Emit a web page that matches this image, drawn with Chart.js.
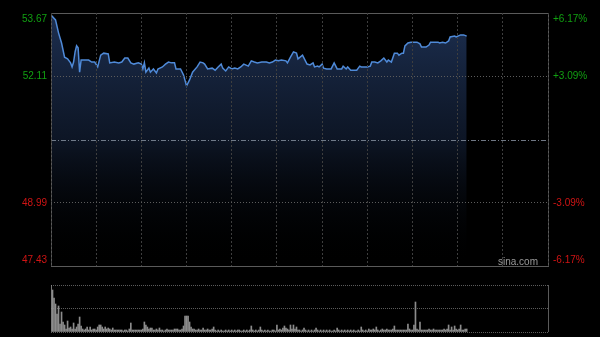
<!DOCTYPE html>
<html>
<head>
<meta charset="utf-8">
<script src="https://cdn.jsdelivr.net/npm/chart.js@4.4.1/dist/chart.umd.min.js"></script>
<style>
  html, body { margin: 0; padding: 0; background: #000; }
  #wrap { position: relative; width: 600px; height: 337px; background: #000; overflow: hidden; }
  #precio { position: absolute; left: 0; top: 0; width: 600px; height: 280px; }
  #volumen { position: absolute; left: 0; top: 280px; width: 600px; height: 57px; }
  #marca { position: absolute; left: 498px; top: 256px; font: 10px 'Liberation Sans', Arial, sans-serif; color: #9a9a9a; }
</style>
</head>
<body>
<div id="wrap">
  <div id="precio"><canvas id="graficoPrecio"></canvas></div>
  <div id="volumen"><canvas id="graficoVolumen"></canvas></div>
  <div id="marca">sina.com</div>
</div>
<script>
// minutos desde la apertura (sesion de 330 minutos)
const totalMinutos = 330;
const minutos = [
  0, 3, 5, 7, 9, 11, 13, 14, 15, 16,
  17, 18, 19, 20, 22, 25, 27, 29, 31, 33,
  35, 38, 39, 42, 45, 47, 49, 51, 53, 55,
  58, 60, 61, 62, 63, 65, 66, 68, 70, 71,
  74, 76, 78, 80, 82, 83, 86, 88, 90, 92,
  94, 97, 99, 101, 102, 104, 107, 109, 111, 113,
  114, 116, 118, 120, 122, 124, 126, 128, 131, 133,
  135, 137, 140, 143, 145, 147, 149, 151, 153, 156,
  157, 159, 161, 163, 164, 167, 170, 172, 174, 175,
  177, 178, 180, 181, 183, 186, 188, 190, 193, 194,
  196, 197, 199, 203, 205, 206, 208, 210, 212, 213,
  215, 217, 219, 221, 223, 224, 226, 228, 230, 231,
  233, 234, 235, 237, 239, 241, 243, 245, 246, 249,
  251, 252, 254, 257, 258, 260, 262, 264, 265, 268,
  269, 272, 274, 276
];
const precios = [
  53.62, 53.50, 53.18, 52.93, 52.58, 52.54, 52.44, 52.34, 52.46, 52.71,
  52.86, 52.81, 52.21, 52.51, 52.51, 52.51, 52.46, 52.46, 52.34, 52.63,
  52.68, 52.66, 52.44, 52.46, 52.44, 52.46, 52.56, 52.56, 52.44, 52.41,
  52.44, 52.41, 52.29, 52.44, 52.21, 52.31, 52.21, 52.29, 52.19, 52.29,
  52.34, 52.41, 52.46, 52.44, 52.44, 52.29, 52.29, 52.14, 51.87, 52.02,
  52.21, 52.34, 52.46, 52.44, 52.41, 52.29, 52.31, 52.26, 52.34, 52.41,
  52.31, 52.24, 52.34, 52.29, 52.31, 52.29, 52.34, 52.41, 52.36, 52.49,
  52.46, 52.44, 52.46, 52.46, 52.44, 52.46, 52.51, 52.49, 52.51, 52.49,
  52.44, 52.58, 52.71, 52.68, 52.54, 52.63, 52.41, 52.39, 52.44, 52.34,
  52.36, 52.34, 52.41, 52.31, 52.29, 52.29, 52.44, 52.29, 52.29, 52.36,
  52.29, 52.34, 52.26, 52.26, 52.36, 52.34, 52.34, 52.34, 52.36, 52.46,
  52.46, 52.44, 52.49, 52.56, 52.46, 52.51, 52.46, 52.68, 52.68, 52.63,
  52.68, 52.68, 52.86, 52.93, 52.95, 52.95, 52.95, 52.91, 52.83, 52.83,
  52.88, 52.95, 52.95, 52.95, 52.93, 52.95, 52.93, 52.98, 53.08, 53.10,
  53.08, 53.13, 53.13, 53.10
];
// volumen por minuto, desde el minuto 0
const volumenes = [
  47, 42, 34, 28, 18, 26, 8, 20, 10, 7, 3, 11, 4, 5, 3, 9, 3, 5, 8, 15, 6,
  3, 2, 3, 5, 2, 5, 2, 3, 3, 2, 5, 7, 7, 5, 3, 5, 3, 4, 3, 2,
  4, 2, 2, 2, 2, 2, 2, 1, 2, 2, 1, 3, 9, 2, 2, 2, 2, 2, 2, 2,
  3, 10, 7, 5, 3, 4, 4, 2, 2, 3, 2, 4, 2, 2, 1, 2, 3, 2, 2, 2,
  2, 3, 3, 3, 2, 2, 3, 6, 16, 16, 16, 10, 5, 3, 3, 2, 2, 3, 2, 2,
  4, 2, 2, 3, 2, 2, 3, 5, 2, 1, 2, 1, 2, 1, 1, 2, 1, 2, 1, 2,
  1, 2, 1, 2, 2, 1, 1, 2, 1, 2, 1, 2, 6, 2, 1, 2, 1, 2, 5, 2,
  1, 2, 1, 2, 1, 1, 2, 2, 1, 7, 2, 3, 2, 4, 6, 4, 3, 2, 7, 3,
  7, 3, 5, 2, 2, 1, 2, 4, 2, 1, 2, 1, 2, 1, 2, 4, 2, 1, 2, 1,
  2, 1, 2, 1, 2, 1, 1, 2, 1, 4, 2, 1, 2, 1, 2, 1, 2, 1, 2, 1,
  2, 1, 1, 2, 1, 5, 2, 1, 2, 1, 3, 2, 2, 3, 2, 5, 2, 1, 2, 3,
  2, 2, 3, 2, 2, 2, 3, 6, 2, 2, 2, 2, 2, 2, 2, 2, 8, 3, 2, 2,
  7, 30, 3, 2, 10, 2, 2, 2, 2, 2, 3, 2, 2, 3, 2, 2, 2, 2, 2, 2,
  3, 2, 3, 7, 2, 5, 2, 6, 3, 2, 3, 7, 2, 2, 3, 3
];
const precioBase = 50.55;
const precioMin = 47.43;
const precioMax = 53.67;
const ticksPrecio = [47.43, 48.99, 50.55, 52.11, 53.67];
const volumenMax = 47;

const fuente = "'Liberation Sans', Arial, sans-serif";
const verde = '#11a011';
const rojo = '#d01414';

const marcoPrecio = {
  id: 'marcoPrecio',
  afterDatasetsDraw(chart) {
    const ctx = chart.ctx;
    const area = chart.chartArea;
    const y = chart.scales.y;
    const ym = Math.round(y.getPixelForValue(precioBase)) + 0.5;
    ctx.save();
    ctx.strokeStyle = 'rgba(130,140,155,0.85)';
    ctx.lineWidth = 1;
    ctx.setLineDash([5, 2, 1, 2]);
    ctx.beginPath();
    ctx.moveTo(area.left, ym);
    ctx.lineTo(area.right, ym);
    ctx.stroke();
    ctx.setLineDash([]);
    ctx.strokeStyle = '#5a5a5a';
    ctx.strokeRect(Math.round(area.left) + 0.5, Math.round(area.top) + 0.5,
      Math.round(area.right - area.left), Math.round(area.bottom - area.top));
    ctx.restore();
  },
  afterDraw(chart) {
    const ctx = chart.ctx;
    const area = chart.chartArea;
    const y = chart.scales.y;
    ctx.save();
    ctx.font = '10px ' + fuente;
    ctx.textBaseline = 'middle';
    ticksPrecio.forEach(v => {
      if (v === precioBase) return;
      let py = y.getPixelForValue(v);
      py = Math.min(Math.max(py, area.top + 6), area.bottom - 6);
      ctx.fillStyle = v > precioBase ? verde : rojo;
      ctx.textAlign = 'right';
      ctx.fillText(v.toFixed(2), area.left - 4, py);
      const pct = (v - precioBase) / precioBase * 100;
      ctx.textAlign = 'left';
      ctx.fillText((pct > 0 ? '+' : '') + pct.toFixed(2) + '%', area.right + 5, py);
    });
    ctx.restore();
  }
};

const marcoVolumen = {
  id: 'marcoVolumen',
  afterDraw(chart) {
    const ctx = chart.ctx;
    const area = chart.chartArea;
    ctx.save();
    ctx.strokeStyle = '#5a5a5a';
    ctx.lineWidth = 1;
    const x = Math.round(area.right) + 0.5;
    ctx.beginPath();
    ctx.moveTo(x, area.top);
    ctx.lineTo(x, area.bottom);
    ctx.stroke();
    ctx.restore();
  }
};

function rellenoPrecio(context) {
  const chart = context.chart;
  const area = chart.chartArea;
  if (!area) return 'rgba(0,0,0,0)';
  const g = chart.ctx.createLinearGradient(0, area.top, 0, area.bottom);
  g.addColorStop(0, 'rgba(34,56,96,0.85)');
  g.addColorStop(0.5, 'rgba(22,36,62,0.6)');
  g.addColorStop(1, 'rgba(0,0,0,0)');
  return g;
}

new Chart(document.getElementById('graficoPrecio'), {
  type: 'line',
  data: {
    datasets: [{
      data: minutos.map((m, i) => ({ x: m, y: precios[i] })),
      borderColor: '#4f8ad8',
      borderWidth: 1.5,
      backgroundColor: rellenoPrecio,
      fill: 'start',
      pointRadius: 0,
      tension: 0
    }]
  },
  options: {
    responsive: true,
    maintainAspectRatio: false,
    animation: false,
    events: [],
    layout: { padding: { left: 51, right: 52, top: 13, bottom: 14 } },
    plugins: { legend: { display: false }, tooltip: { enabled: false } },
    scales: {
      x: {
        type: 'linear',
        min: 0,
        max: totalMinutos,
        ticks: { display: false, stepSize: 30 },
        grid: { color: '#3e3e3e', drawTicks: false, z: 1 },
        border: { display: false, dash: [2, 2] }
      },
      y: {
        min: precioMin,
        max: precioMax,
        afterBuildTicks: axis => { axis.ticks = ticksPrecio.map(v => ({ value: v })); },
        ticks: { display: false },
        grid: {
          color: c => (c.tick && (c.tick.value === 52.11 || c.tick.value === 48.99)) ? '#5c5c5c' : 'rgba(0,0,0,0)',
          drawTicks: false,
          z: 1
        },
        border: { display: false, dash: [1, 2] }
      }
    }
  },
  plugins: [marcoPrecio]
});

new Chart(document.getElementById('graficoVolumen'), {
  type: 'bar',
  data: {
    datasets: [{
      data: volumenes.map((v, i) => ({ x: i, y: v })),
      backgroundColor: '#8c8c8c',
      barThickness: 1
    }]
  },
  options: {
    responsive: true,
    maintainAspectRatio: false,
    animation: false,
    events: [],
    layout: { padding: { left: 51, right: 52, top: 5, bottom: 5 } },
    plugins: { legend: { display: false }, tooltip: { enabled: false } },
    scales: {
      x: {
        type: 'linear',
        min: 0,
        max: totalMinutos,
        offset: false,
        ticks: { display: false },
        grid: { display: false, drawTicks: false, offset: false },
        border: { display: false }
      },
      y: {
        min: 0,
        max: volumenMax,
        afterBuildTicks: axis => { axis.ticks = [0, volumenMax / 2, volumenMax].map(v => ({ value: v })); },
        ticks: { display: false },
        grid: { color: '#5c5c5c', drawTicks: false },
        border: { display: false, dash: [1, 1] }
      }
    }
  },
  plugins: [marcoVolumen]
});
</script>
</body>
</html>
